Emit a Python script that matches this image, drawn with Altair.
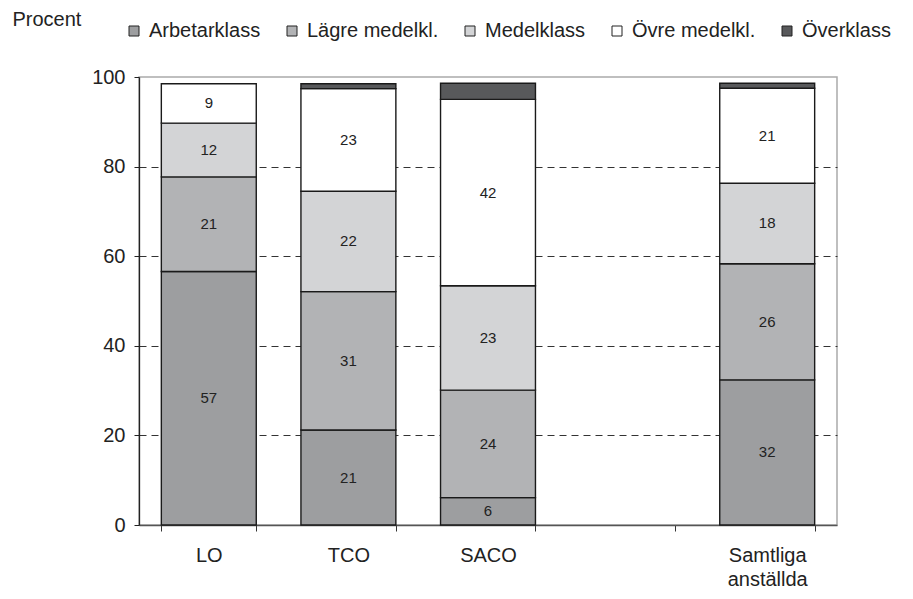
import altair as alt
import pandas as pd

groups = ["LO", "TCO", "SACO", "Samtliga anställda"]
x_domain = ["LO", "TCO", "SACO", " ", "Samtliga anställda"]
classes = ["Arbetarklass", "Lägre medelkl.", "Medelklass", "Övre medelkl.", "Överklass"]
colors = ["#9d9ea0", "#b2b3b5", "#d3d4d6", "#ffffff", "#58595b"]

arbetarklass = [56.6, 21.2, 6.1, 32.4]
lagre_medelkl = [21.1, 30.9, 24.0, 25.9]
medelklass = [12.0, 22.4, 23.3, 18.0]
ovre_medelkl = [8.8, 22.9, 41.6, 21.2]
overklass = [0.0, 1.1, 3.6, 1.1]

series = [arbetarklass, lagre_medelkl, medelklass, ovre_medelkl, overklass]
rows = []
for ci, (cls, vals) in enumerate(zip(classes, series)):
    for g, v in zip(groups, vals):
        rows.append({"group": g, "klass": cls, "ord": ci, "value": v})
df = pd.DataFrame(rows)

FONT = "Liberation Sans, Arial, Helvetica, sans-serif"

base = alt.Chart(df).transform_filter("datum.value > 0").transform_stack(
    stack="value", groupby=["group"], as_=["y0", "y1"],
    sort=[alt.SortField("ord", order="ascending")]
).transform_calculate(mid="(datum.y0 + datum.y1) / 2")

x_scale = alt.Scale(domain=x_domain, paddingInner=0.32, paddingOuter=0.16)

x_enc = alt.X(
    "group:N",
    scale=x_scale,
    axis=alt.Axis(
        title=None, labelAngle=0, tickBand="extent", grid=False,
        labelExpr="split(datum.label, ' ')",
        labelFontSize=20, labelColor="#222", labelPadding=14, labelLineHeight=24,
        tickSize=6, tickColor="#333", domainColor="#555", domainWidth=1.3,
        labelBaseline="top",
    ),
)

y_scale = alt.Scale(domain=[0, 100], nice=False)

bars = base.mark_bar(stroke="#1a1a1a", strokeWidth=1.4).encode(
    x=x_enc,
    y=alt.Y(
        "y0:Q", scale=y_scale,
        axis=alt.Axis(
            title="Procent", titleAngle=0, titleX=-127, titleY=-52,
            titleAlign="left", titleBaseline="alphabetic",
            titleFontSize=20, titleFontWeight="normal", titleColor="#222",
            values=[0, 20, 40, 60, 80, 100],
            labelFontSize=20, labelColor="#222", labelPadding=9,
            tickSize=5, tickColor="#222", domainColor="#222", domainWidth=1.3,
            grid=True, gridColor="#333", gridDash=[7, 5], gridWidth=1,
            gridOpacity={"condition": {"test": "datum.value === 0 || datum.value === 100", "value": 0}, "value": 1},
        ),
    ),
    y2="y1:Q",
    color=alt.Color(
        "klass:N",
        scale=alt.Scale(domain=classes, range=colors),
        legend=alt.Legend(
            title=None, orient="none", direction="horizontal",
            legendX=-15, legendY=-56, padding=0,
            symbolType="square", symbolSize=100, symbolStrokeColor="#222",
            symbolStrokeWidth=1, symbolOpacity=1,
            labelFontSize=20, labelColor="#222", labelOffset=5,
            columnPadding=21, labelLimit=300,
        ),
    ),
)

labels = base.transform_filter("datum.klass != 'Överklass'").mark_text(
    fontSize=15, color="#222", baseline="middle", align="center"
).encode(
    x=alt.X("group:N", scale=x_scale),
    y=alt.Y("mid:Q", scale=y_scale),
    text=alt.Text("value:Q", format=".0f"),
)

chart = alt.layer(bars, labels).properties(
    width=698, height=448,
    autosize=alt.AutoSizeParams(type="none"),
    padding={"left": 131, "top": 69, "right": 68, "bottom": 66},
).configure(font=FONT).configure_view(
    stroke="#aaaaaa", strokeWidth=1.5
)

chart.save("out.html", embed_options={"renderer": "svg", "actions": False})
